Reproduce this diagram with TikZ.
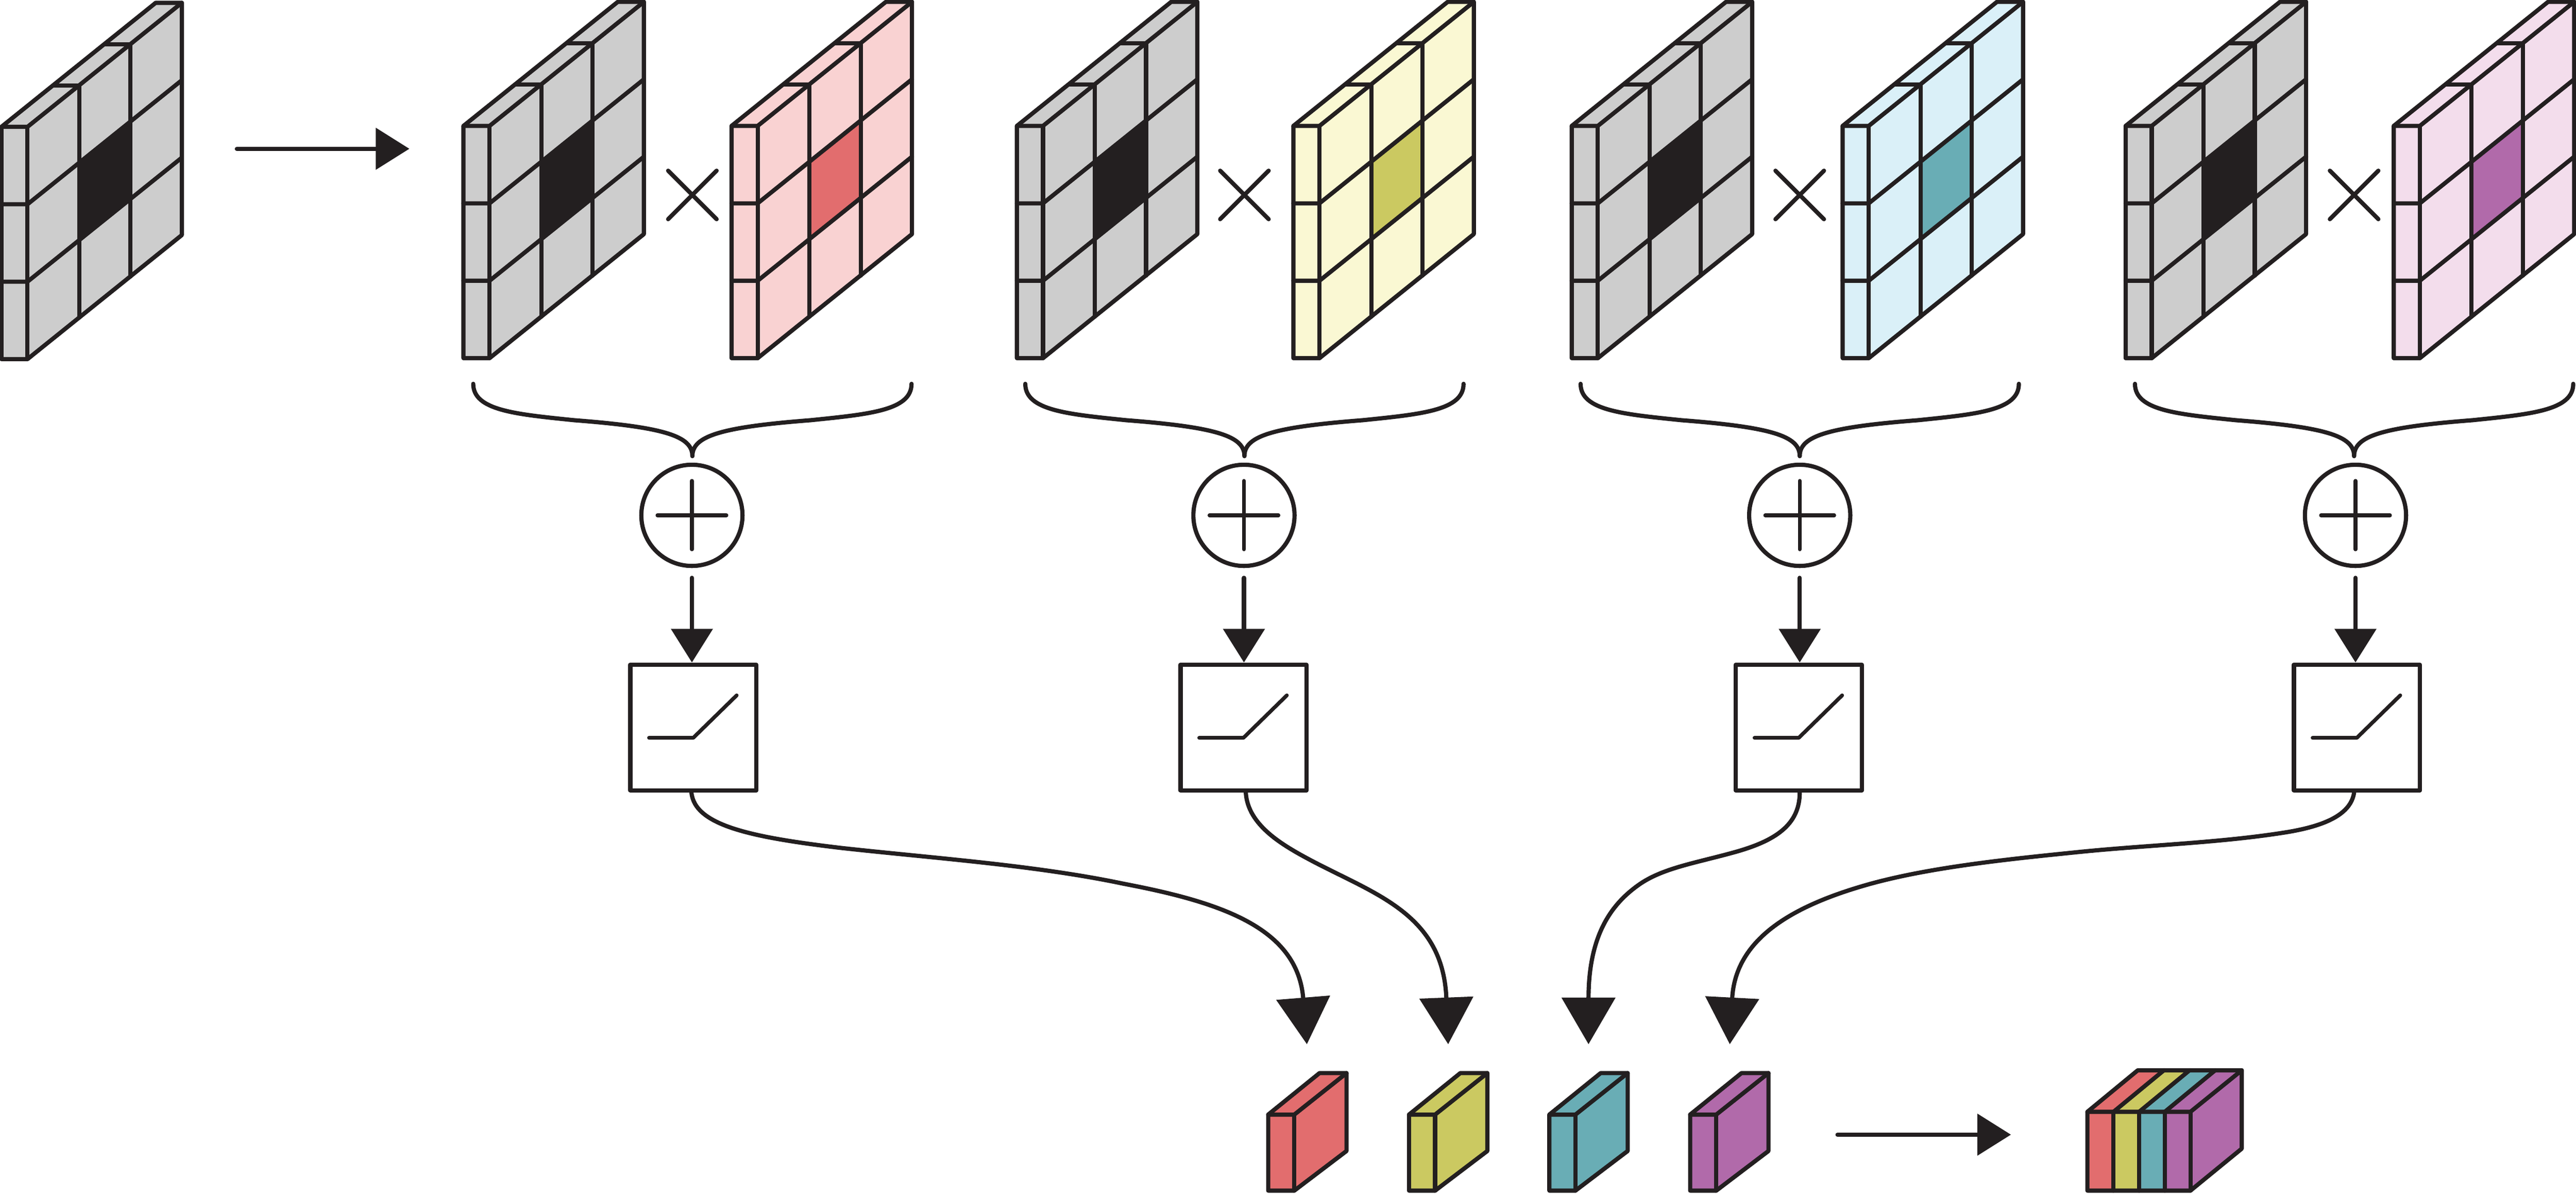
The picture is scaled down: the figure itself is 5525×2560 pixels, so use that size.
\documentclass[tikz,border=0pt]{standalone}
\usetikzlibrary{arrows.meta}
\definecolor{ink}{HTML}{231F20}
\definecolor{grayL}{HTML}{CDCDCD}
\definecolor{redL}{HTML}{F9D2D2}\definecolor{redD}{HTML}{E26D6E}
\definecolor{yelL}{HTML}{FAF8D3}\definecolor{yelD}{HTML}{CBC961}
\definecolor{bluL}{HTML}{DAF0F8}\definecolor{bluD}{HTML}{69ADB5}
\definecolor{magL}{HTML}{F3DDEC}\definecolor{magD}{HTML}{B16AAA}
\tikzset{
  lineart/.style={draw=ink,line width=1.8pt,line join=round,line cap=round},
  thinart/.style={draw=ink,line width=1.6pt,line join=round,line cap=round},
  sumnode/.style={circle,draw=ink,line width=1.8pt,inner sep=0pt,minimum size=43.4pt,outer sep=0.9pt},
  rampbox/.style={rectangle,draw=ink,line width=1.8pt,inner sep=0pt,minimum size=54pt,outer sep=0.9pt,line join=round},
  bigarrow/.style={lineart,-{Triangle[length=20pt,width=22.8pt]}},
  smallarrow/.style={lineart,-{Triangle[length=14.4pt,width=17.6pt]}},
}
% grid: #1 x offset, #2 y offset, #3 light colour, #4 centre colour
\newcommand{\gridblock}[4]{%
\begin{scope}[shift={(#1,#2)}]
  \fill[#3] (0,270) -- (331,4) -- (387,4) -- (387,502) -- (56,768) -- (0,768) -- cycle;
  \fill[#4] (167,347) -- (277,259) -- (277,425) -- (167,513) -- cycle;
  \draw[lineart] (0,270) -- (331,4) -- (387,4) -- (387,502) -- (56,768) -- (0,768) -- cycle;
  \draw[lineart] (0,270) -- (56,270) -- (387,4);
  \draw[lineart] (56,270) -- (56,768);
  \draw[lineart] (0,436) -- (56,436) -- (387,170);
  \draw[lineart] (0,602) -- (56,602) -- (387,336);
  \draw[lineart] (111,181) -- (167,181) -- (167,679);
  \draw[lineart] (221,93) -- (277,93) -- (277,591);
\end{scope}}
% cross symbol and brace at centre #1
\newcommand{\braceat}[1]{%
  \draw[lineart] (#1-52,366) -- (#1+52,470);
  \draw[lineart] (#1+52,366) -- (#1-52,470);
  \draw[lineart] (#1-470,823) .. controls (#1-470,880) and (#1-380,888) .. (#1-254,901)
     .. controls (#1-60,916) and (#1,935) .. (#1,978);
  \draw[lineart] (#1+470,823) .. controls (#1+470,880) and (#1+380,888) .. (#1+254,901)
     .. controls (#1+60,916) and (#1,935) .. (#1,978);
}
% sum circle #2 at x #1 , box #3 at x #4
\newcommand{\stage}[4]{%
  \node[sumnode] (#2) at (#1,1105) {};
  \draw[thinart] (#1-74,1105) -- (#1+74,1105);
  \draw[thinart] (#1,1031) -- (#1,1178);
  \node[rampbox] (#3) at (#4,1560) {};
  \draw[thinart] (#4-95,1582) -- (#4,1582) -- (#4+93,1491);
  \draw[smallarrow,shorten <=4.2pt] (#2.south) -- (#2.south |- #3.north);
}
% small coloured block at x #1
\newcommand{\slab}[2]{%
\begin{scope}[shift={(#1,0)}]
  \fill[#2] (0,2390) -- (110,2301) -- (168,2301) -- (168,2468) -- (56,2553) -- (0,2553) -- cycle;
  \draw[lineart] (0,2390) -- (110,2301) -- (168,2301) -- (168,2468) -- (56,2553) -- (0,2553) -- cycle;
  \draw[lineart] (0,2390) -- (56,2390) -- (168,2301);
  \draw[lineart] (56,2390) -- (56,2553);
\end{scope}}
\begin{document}
\begin{tikzpicture}[x=0.2pt,y=-0.2pt]
\useasboundingbox (0,0) rectangle (5525,2560);
\fill[white] (0,0) rectangle (5525,2560);

\gridblock{3}{2}{grayL}{ink}
\gridblock{994}{0}{grayL}{ink}
\gridblock{1569}{0}{redL}{redD}
\gridblock{2181}{0}{grayL}{ink}
\gridblock{2774}{0}{yelL}{yelD}
\gridblock{3371}{0}{grayL}{ink}
\gridblock{3952}{0}{bluL}{bluD}
\gridblock{4559}{0}{grayL}{ink}
\gridblock{5134}{0}{magL}{magD}

\coordinate (inA) at (508,319);
\coordinate (inB) at (878,319);
\draw[smallarrow] (inA) -- (inB);

\braceat{1485}
\braceat{2669}
\braceat{3860}
\braceat{5049}

\stage{1484}{sumA}{boxA}{1487}
\stage{2668}{sumB}{boxB}{2667}
\stage{3860}{sumC}{boxC}{3858}
\stage{5052}{sumD}{boxD}{5055}

\coordinate (tipA) at (2803,2239);
\coordinate (tipB) at (3106,2239);
\coordinate (tipC) at (3407,2239);
\coordinate (tipD) at (3710,2239);

\draw[bigarrow] ([xshift=-0.8pt]boxA.south) .. controls (1490,1770) and (1610,1795) .. (1802,1818)
   .. controls (2000,1840) and (2220,1855) .. (2410,1895)
   .. controls (2620,1935) and (2783,1990) .. (tipA);
\draw[bigarrow] ([xshift=1pt]boxB.south) .. controls (2676,1770) and (2752,1813) .. (2812,1845)
   .. controls (2950,1918) and (3095,1960) .. (tipB);
\draw[bigarrow] ([xshift=0.4pt]boxC.south) .. controls (3860,1770) and (3805,1803) .. (3725,1826)
   .. controls (3640,1850) and (3570,1860) .. (3518,1895)
   .. controls (3460,1935) and (3407,2000) .. (tipC);
\draw[bigarrow] ([xshift=-1.2pt]boxD.south) .. controls (5042,1745) and (4990,1770) .. (4907,1784)
   .. controls (4760,1808) and (4600,1812) .. (4448,1828)
   .. controls (4300,1843) and (4140,1860) .. (4012,1895)
   .. controls (3850,1940) and (3722,2010) .. (tipD);

\slab{2720}{redD}
\slab{3022}{yelD}
\slab{3323}{bluD}
\slab{3625}{magD}

\coordinate (outA) at (3941,2433);
\coordinate (outB) at (4313,2433);
\draw[smallarrow] (outA) -- (outB);

% concatenated stack
\fill[redD] (4477,2384) -- (4533,2384) -- (4641,2295) -- (4585,2295) -- cycle;
\fill[yelD] (4533,2384) -- (4588,2384) -- (4696,2295) -- (4641,2295) -- cycle;
\fill[bluD] (4588,2384) -- (4643,2384) -- (4751,2295) -- (4696,2295) -- cycle;
\fill[magD] (4643,2384) -- (4698,2384) -- (4808,2295) -- (4751,2295) -- cycle;
\fill[redD] (4477,2384) rectangle (4533,2553);
\fill[yelD] (4533,2384) rectangle (4588,2553);
\fill[bluD] (4588,2384) rectangle (4643,2553);
\fill[magD] (4643,2384) rectangle (4698,2553);
\fill[magD] (4698,2384) -- (4808,2295) -- (4808,2463) -- (4698,2553) -- cycle;
\draw[lineart] (4477,2384) -- (4585,2295) -- (4808,2295) -- (4808,2463) -- (4698,2553) -- (4477,2553) -- cycle;
\draw[lineart] (4477,2384) -- (4698,2384) -- (4808,2295);
\draw[lineart] (4533,2384) -- (4533,2553);
\draw[lineart] (4588,2384) -- (4588,2553);
\draw[lineart] (4643,2384) -- (4643,2553);
\draw[lineart] (4698,2384) -- (4698,2553);
\draw[lineart] (4533,2384) -- (4641,2295);
\draw[lineart] (4588,2384) -- (4696,2295);
\draw[lineart] (4643,2384) -- (4751,2295);
\end{tikzpicture}
\end{document}
